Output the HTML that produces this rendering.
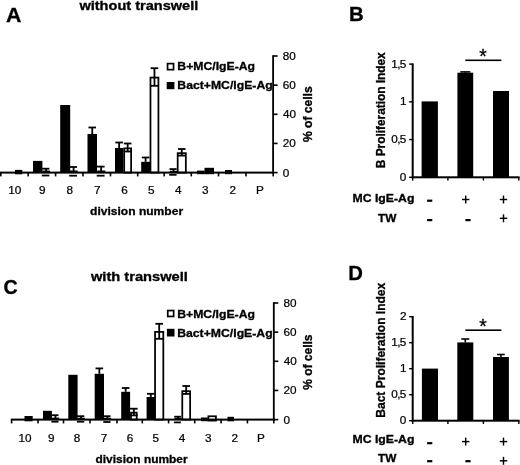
<!DOCTYPE html>
<html lang="en"><head><meta charset="utf-8"><title>Figure</title>
<style>
html,body{margin:0;padding:0;background:#fff;}
body{width:520px;height:465px;overflow:hidden;}
svg{display:block;font-family:"Liberation Sans",Arial,Helvetica,sans-serif;}
</style></head><body>
<svg width="520" height="465" viewBox="0 0 520 465">
<rect x="0" y="0" width="520" height="465" fill="#fff"/>
<rect x="15.00" y="169.90" width="7.30" height="4.40" fill="#000"/>
<rect x="33.00" y="160.90" width="9.40" height="11.70" fill="#000"/>
<line x1="46.10" y1="168.70" x2="46.10" y2="172.60" stroke="#000" stroke-width="1.8"/>
<line x1="42.10" y1="168.70" x2="49.40" y2="168.70" stroke="#000" stroke-width="1.8"/>
<line x1="41.80" y1="175.50" x2="49.40" y2="175.50" stroke="#000" stroke-width="1.8"/>
<rect x="42.40" y="170.60" width="7.70" height="2.00" fill="#000"/>
<rect x="60.20" y="105.00" width="10.00" height="67.60" fill="#000"/>
<line x1="73.60" y1="167.00" x2="73.60" y2="172.60" stroke="#000" stroke-width="1.8"/>
<line x1="69.50" y1="167.00" x2="77.00" y2="167.00" stroke="#000" stroke-width="1.8"/>
<line x1="69.20" y1="175.70" x2="77.00" y2="175.70" stroke="#000" stroke-width="1.8"/>
<rect x="69.80" y="170.50" width="7.90" height="2.10" fill="#000"/>
<rect x="87.50" y="134.00" width="9.50" height="38.60" fill="#000"/>
<line x1="92.25" y1="127.50" x2="92.25" y2="134.00" stroke="#000" stroke-width="1.8"/>
<line x1="88.45" y1="127.50" x2="96.05" y2="127.50" stroke="#000" stroke-width="1.8"/>
<line x1="101.15" y1="166.60" x2="101.15" y2="172.60" stroke="#000" stroke-width="1.8"/>
<line x1="97.00" y1="166.60" x2="104.60" y2="166.60" stroke="#000" stroke-width="1.8"/>
<line x1="96.70" y1="175.70" x2="104.60" y2="175.70" stroke="#000" stroke-width="1.8"/>
<rect x="97.30" y="170.50" width="8.00" height="2.10" fill="#000"/>
<rect x="115.00" y="148.00" width="8.30" height="24.60" fill="#000"/>
<line x1="119.15" y1="142.50" x2="119.15" y2="148.00" stroke="#000" stroke-width="1.8"/>
<line x1="115.35" y1="142.50" x2="122.95" y2="142.50" stroke="#000" stroke-width="1.8"/>
<rect x="124.17" y="148.38" width="6.95" height="24.22" fill="#fff" stroke="#000" stroke-width="1.75"/>
<line x1="127.65" y1="143.50" x2="127.65" y2="151.50" stroke="#000" stroke-width="1.8"/>
<line x1="123.85" y1="143.50" x2="131.45" y2="143.50" stroke="#000" stroke-width="1.8"/>
<line x1="123.85" y1="151.50" x2="131.45" y2="151.50" stroke="#000" stroke-width="1.8"/>
<rect x="141.20" y="161.80" width="8.80" height="10.80" fill="#000"/>
<line x1="145.60" y1="157.50" x2="145.60" y2="161.80" stroke="#000" stroke-width="1.8"/>
<line x1="141.80" y1="157.50" x2="149.40" y2="157.50" stroke="#000" stroke-width="1.8"/>
<rect x="150.47" y="77.58" width="7.95" height="95.02" fill="#fff" stroke="#000" stroke-width="1.75"/>
<line x1="154.45" y1="68.20" x2="154.45" y2="85.80" stroke="#000" stroke-width="1.8"/>
<line x1="150.65" y1="68.20" x2="158.25" y2="68.20" stroke="#000" stroke-width="1.8"/>
<line x1="150.65" y1="85.80" x2="158.25" y2="85.80" stroke="#000" stroke-width="1.8"/>
<line x1="173.40" y1="169.10" x2="173.40" y2="172.60" stroke="#000" stroke-width="1.8"/>
<line x1="169.50" y1="169.10" x2="176.60" y2="169.10" stroke="#000" stroke-width="1.8"/>
<line x1="169.20" y1="174.80" x2="176.60" y2="174.80" stroke="#000" stroke-width="1.8"/>
<rect x="169.80" y="170.80" width="7.50" height="1.80" fill="#000"/>
<rect x="177.68" y="153.18" width="8.15" height="19.42" fill="#fff" stroke="#000" stroke-width="1.75"/>
<line x1="181.75" y1="149.00" x2="181.75" y2="155.60" stroke="#000" stroke-width="1.8"/>
<line x1="177.95" y1="149.00" x2="185.55" y2="149.00" stroke="#000" stroke-width="1.8"/>
<line x1="177.95" y1="155.60" x2="185.55" y2="155.60" stroke="#000" stroke-width="1.8"/>
<rect x="197.00" y="170.60" width="7.50" height="3.60" fill="#000"/>
<rect x="204.50" y="167.80" width="9.50" height="6.40" fill="#000"/>
<rect x="225.00" y="170.00" width="7.00" height="4.20" fill="#000"/>
<rect x="0.00" y="171.60" width="273.90" height="2.00" fill="#000"/>
<rect x="0.00" y="172.60" width="1.60" height="3.80" fill="#000"/>
<rect x="27.40" y="172.60" width="1.60" height="3.80" fill="#000"/>
<rect x="54.80" y="172.60" width="1.60" height="3.80" fill="#000"/>
<rect x="82.20" y="172.60" width="1.60" height="3.80" fill="#000"/>
<rect x="109.70" y="172.60" width="1.60" height="3.80" fill="#000"/>
<rect x="136.90" y="172.60" width="1.60" height="3.80" fill="#000"/>
<rect x="163.40" y="172.60" width="1.60" height="3.80" fill="#000"/>
<rect x="190.50" y="172.60" width="1.60" height="3.80" fill="#000"/>
<rect x="217.70" y="172.60" width="1.60" height="3.80" fill="#000"/>
<rect x="245.20" y="172.60" width="1.60" height="3.80" fill="#000"/>
<rect x="272.40" y="172.60" width="1.60" height="3.80" fill="#000"/>
<rect x="272.20" y="55.20" width="1.80" height="118.40" fill="#000"/>
<rect x="273.10" y="171.80" width="4.50" height="1.60" fill="#000"/>
<text transform="translate(282.83 176.50) scale(1.1200 1.0000)" font-size="10.5" stroke="#000" stroke-width="0.22">0</text>
<rect x="273.10" y="142.65" width="4.50" height="1.60" fill="#000"/>
<text transform="translate(282.71 147.35) scale(1.1200 1.0000)" font-size="10.5" stroke="#000" stroke-width="0.22">20</text>
<rect x="273.10" y="113.50" width="4.50" height="1.60" fill="#000"/>
<text transform="translate(283.01 118.20) scale(1.1200 1.0000)" font-size="10.5" stroke="#000" stroke-width="0.22">40</text>
<rect x="273.10" y="84.35" width="4.50" height="1.60" fill="#000"/>
<text transform="translate(282.71 89.05) scale(1.1200 1.0000)" font-size="10.5" stroke="#000" stroke-width="0.22">60</text>
<rect x="273.10" y="55.20" width="4.50" height="1.60" fill="#000"/>
<text transform="translate(282.77 59.90) scale(1.1200 1.0000)" font-size="10.5" stroke="#000" stroke-width="0.22">80</text>
<text transform="translate(8.17 193.70) scale(1.1200 1.0000)" font-size="10.5" stroke="#000" stroke-width="0.22">10</text>
<text transform="translate(39.04 193.70) scale(1.1200 1.0000)" font-size="10.5" stroke="#000" stroke-width="0.22">9</text>
<text transform="translate(66.41 193.70) scale(1.1200 1.0000)" font-size="10.5" stroke="#000" stroke-width="0.22">8</text>
<text transform="translate(93.89 193.70) scale(1.1200 1.0000)" font-size="10.5" stroke="#000" stroke-width="0.22">7</text>
<text transform="translate(121.21 193.70) scale(1.1200 1.0000)" font-size="10.5" stroke="#000" stroke-width="0.22">6</text>
<text transform="translate(148.09 193.70) scale(1.1200 1.0000)" font-size="10.5" stroke="#000" stroke-width="0.22">5</text>
<text transform="translate(174.92 193.70) scale(1.1200 1.0000)" font-size="10.5" stroke="#000" stroke-width="0.22">4</text>
<text transform="translate(202.07 193.70) scale(1.1200 1.0000)" font-size="10.5" stroke="#000" stroke-width="0.22">3</text>
<text transform="translate(229.39 193.70) scale(1.1200 1.0000)" font-size="10.5" stroke="#000" stroke-width="0.22">2</text>
<text transform="translate(255.91 193.70) scale(1.1200 1.0000)" font-size="10.5" stroke="#000" stroke-width="0.22">P</text>
<text transform="translate(90.02 214.70) scale(1.0964 1.0000)" font-size="11" font-weight="bold" stroke="#000" stroke-width="0.3">division number</text>
<text transform="translate(311.80 142.10) rotate(-90) scale(1.0169 1.0700)" font-size="11.9" font-weight="bold" stroke="#000" stroke-width="0.3">% of cells</text>
<text transform="translate(79.40 9.80) scale(1.1554 1.0000)" font-size="12.6" font-weight="bold" stroke="#000" stroke-width="0.3">without transwell</text>
<rect x="167.55" y="63.60" width="6.00" height="6.05" fill="#fff" stroke="#000" stroke-width="1.7"/>
<text transform="translate(177.31 70.20) scale(1.0913 1.0000)" font-size="11.2" font-weight="bold" stroke="#000" stroke-width="0.3">B+MC/IgE-Ag</text>
<rect x="166.70" y="82.00" width="7.70" height="7.20" fill="#000"/>
<text transform="translate(177.31 88.70) scale(1.0913 1.0000)" font-size="11.2" font-weight="bold" stroke="#000" stroke-width="0.3">Bact+MC/IgE-Ag</text>
<rect x="24.50" y="416.00" width="8.20" height="5.30" fill="#000"/>
<rect x="43.00" y="410.80" width="8.90" height="8.80" fill="#000"/>
<line x1="55.45" y1="415.20" x2="55.45" y2="419.60" stroke="#000" stroke-width="1.8"/>
<line x1="51.70" y1="415.20" x2="58.50" y2="415.20" stroke="#000" stroke-width="1.8"/>
<line x1="51.40" y1="421.70" x2="58.50" y2="421.70" stroke="#000" stroke-width="1.8"/>
<rect x="52.00" y="417.60" width="7.20" height="2.00" fill="#000"/>
<rect x="68.30" y="374.80" width="9.30" height="44.80" fill="#000"/>
<line x1="81.10" y1="416.20" x2="81.10" y2="419.60" stroke="#000" stroke-width="1.8"/>
<line x1="77.20" y1="416.20" x2="84.30" y2="416.20" stroke="#000" stroke-width="1.8"/>
<line x1="76.90" y1="421.70" x2="84.30" y2="421.70" stroke="#000" stroke-width="1.8"/>
<rect x="77.50" y="417.80" width="7.50" height="1.80" fill="#000"/>
<rect x="94.70" y="373.80" width="9.30" height="45.80" fill="#000"/>
<line x1="99.35" y1="368.40" x2="99.35" y2="373.80" stroke="#000" stroke-width="1.8"/>
<line x1="95.55" y1="368.40" x2="103.15" y2="368.40" stroke="#000" stroke-width="1.8"/>
<line x1="107.40" y1="416.20" x2="107.40" y2="419.60" stroke="#000" stroke-width="1.8"/>
<line x1="103.60" y1="416.20" x2="110.50" y2="416.20" stroke="#000" stroke-width="1.8"/>
<line x1="103.30" y1="422.00" x2="110.50" y2="422.00" stroke="#000" stroke-width="1.8"/>
<rect x="103.90" y="417.80" width="7.30" height="1.80" fill="#000"/>
<rect x="121.20" y="391.80" width="8.90" height="27.80" fill="#000"/>
<line x1="125.65" y1="388.00" x2="125.65" y2="391.80" stroke="#000" stroke-width="1.8"/>
<line x1="121.85" y1="388.00" x2="129.45" y2="388.00" stroke="#000" stroke-width="1.8"/>
<rect x="130.97" y="412.68" width="5.75" height="6.93" fill="#fff" stroke="#000" stroke-width="1.75"/>
<line x1="133.85" y1="408.70" x2="133.85" y2="415.40" stroke="#000" stroke-width="1.8"/>
<line x1="130.05" y1="408.70" x2="137.65" y2="408.70" stroke="#000" stroke-width="1.8"/>
<line x1="130.05" y1="415.40" x2="137.65" y2="415.40" stroke="#000" stroke-width="1.8"/>
<rect x="146.60" y="397.00" width="8.40" height="22.60" fill="#000"/>
<line x1="150.80" y1="393.80" x2="150.80" y2="397.00" stroke="#000" stroke-width="1.8"/>
<line x1="147.00" y1="393.80" x2="154.60" y2="393.80" stroke="#000" stroke-width="1.8"/>
<rect x="155.07" y="331.88" width="8.25" height="87.73" fill="#fff" stroke="#000" stroke-width="1.75"/>
<line x1="159.20" y1="323.80" x2="159.20" y2="338.80" stroke="#000" stroke-width="1.8"/>
<line x1="155.40" y1="323.80" x2="163.00" y2="323.80" stroke="#000" stroke-width="1.8"/>
<line x1="155.40" y1="338.80" x2="163.00" y2="338.80" stroke="#000" stroke-width="1.8"/>
<line x1="177.90" y1="416.70" x2="177.90" y2="419.60" stroke="#000" stroke-width="1.8"/>
<line x1="174.20" y1="416.70" x2="180.90" y2="416.70" stroke="#000" stroke-width="1.8"/>
<line x1="173.90" y1="422.40" x2="180.90" y2="422.40" stroke="#000" stroke-width="1.8"/>
<rect x="174.50" y="417.90" width="7.10" height="1.70" fill="#000"/>
<rect x="182.28" y="391.18" width="7.85" height="28.43" fill="#fff" stroke="#000" stroke-width="1.75"/>
<line x1="186.20" y1="386.00" x2="186.20" y2="393.90" stroke="#000" stroke-width="1.8"/>
<line x1="182.40" y1="386.00" x2="190.00" y2="386.00" stroke="#000" stroke-width="1.8"/>
<line x1="182.40" y1="393.90" x2="190.00" y2="393.90" stroke="#000" stroke-width="1.8"/>
<rect x="201.00" y="417.50" width="6.70" height="3.70" fill="#000"/>
<rect x="208.38" y="416.27" width="7.55" height="4.33" fill="#fff" stroke="#000" stroke-width="1.75"/>
<rect x="227.50" y="416.80" width="6.50" height="4.50" fill="#000"/>
<rect x="10.80" y="418.60" width="263.80" height="2.00" fill="#000"/>
<rect x="10.80" y="419.60" width="1.60" height="3.80" fill="#000"/>
<rect x="37.20" y="419.60" width="1.60" height="3.80" fill="#000"/>
<rect x="62.70" y="419.60" width="1.60" height="3.80" fill="#000"/>
<rect x="89.20" y="419.60" width="1.60" height="3.80" fill="#000"/>
<rect x="116.20" y="419.60" width="1.60" height="3.80" fill="#000"/>
<rect x="141.50" y="419.60" width="1.60" height="3.80" fill="#000"/>
<rect x="167.80" y="419.60" width="1.60" height="3.80" fill="#000"/>
<rect x="193.90" y="419.60" width="1.60" height="3.80" fill="#000"/>
<rect x="220.30" y="419.60" width="1.60" height="3.80" fill="#000"/>
<rect x="246.60" y="419.60" width="1.60" height="3.80" fill="#000"/>
<rect x="273.00" y="419.60" width="1.60" height="3.80" fill="#000"/>
<rect x="272.90" y="302.20" width="1.80" height="118.40" fill="#000"/>
<rect x="273.80" y="418.80" width="4.50" height="1.60" fill="#000"/>
<text transform="translate(283.53 423.50) scale(1.1200 1.0000)" font-size="10.5" stroke="#000" stroke-width="0.22">0</text>
<rect x="273.80" y="389.65" width="4.50" height="1.60" fill="#000"/>
<text transform="translate(283.41 394.35) scale(1.1200 1.0000)" font-size="10.5" stroke="#000" stroke-width="0.22">20</text>
<rect x="273.80" y="360.50" width="4.50" height="1.60" fill="#000"/>
<text transform="translate(283.71 365.20) scale(1.1200 1.0000)" font-size="10.5" stroke="#000" stroke-width="0.22">40</text>
<rect x="273.80" y="331.35" width="4.50" height="1.60" fill="#000"/>
<text transform="translate(283.41 336.05) scale(1.1200 1.0000)" font-size="10.5" stroke="#000" stroke-width="0.22">60</text>
<rect x="273.80" y="302.20" width="4.50" height="1.60" fill="#000"/>
<text transform="translate(283.47 306.90) scale(1.1200 1.0000)" font-size="10.5" stroke="#000" stroke-width="0.22">80</text>
<text transform="translate(18.47 441.70) scale(1.1200 1.0000)" font-size="10.5" stroke="#000" stroke-width="0.22">10</text>
<text transform="translate(47.89 441.70) scale(1.1200 1.0000)" font-size="10.5" stroke="#000" stroke-width="0.22">9</text>
<text transform="translate(73.86 441.70) scale(1.1200 1.0000)" font-size="10.5" stroke="#000" stroke-width="0.22">8</text>
<text transform="translate(100.64 441.70) scale(1.1200 1.0000)" font-size="10.5" stroke="#000" stroke-width="0.22">7</text>
<text transform="translate(126.76 441.70) scale(1.1200 1.0000)" font-size="10.5" stroke="#000" stroke-width="0.22">6</text>
<text transform="translate(152.59 441.70) scale(1.1200 1.0000)" font-size="10.5" stroke="#000" stroke-width="0.22">5</text>
<text transform="translate(178.82 441.70) scale(1.1200 1.0000)" font-size="10.5" stroke="#000" stroke-width="0.22">4</text>
<text transform="translate(205.07 441.70) scale(1.1200 1.0000)" font-size="10.5" stroke="#000" stroke-width="0.22">3</text>
<text transform="translate(231.39 441.70) scale(1.1200 1.0000)" font-size="10.5" stroke="#000" stroke-width="0.22">2</text>
<text transform="translate(256.91 441.70) scale(1.1200 1.0000)" font-size="10.5" stroke="#000" stroke-width="0.22">P</text>
<text transform="translate(95.52 462.50) scale(1.0845 1.0000)" font-size="11" font-weight="bold" stroke="#000" stroke-width="0.3">division number</text>
<text transform="translate(312.00 389.70) rotate(-90) scale(1.0058 1.0700)" font-size="11.9" font-weight="bold" stroke="#000" stroke-width="0.3">% of cells</text>
<text transform="translate(90.90 281.30) scale(1.1850 1.0000)" font-size="12.4" font-weight="bold" stroke="#000" stroke-width="0.3">with transwell</text>
<rect x="167.75" y="310.55" width="5.90" height="5.90" fill="#fff" stroke="#000" stroke-width="1.7"/>
<text transform="translate(177.20 317.80) scale(1.0921 1.0000)" font-size="11.2" font-weight="bold" stroke="#000" stroke-width="0.3">B+MC/IgE-Ag</text>
<rect x="166.90" y="328.80" width="7.60" height="7.70" fill="#000"/>
<text transform="translate(177.20 336.50) scale(1.0921 1.0000)" font-size="11.2" font-weight="bold" stroke="#000" stroke-width="0.3">Bact+MC/IgE-Ag</text>
<rect x="421.60" y="101.40" width="16.30" height="75.90" fill="#000"/>
<rect x="457.40" y="72.70" width="15.80" height="104.60" fill="#000"/>
<line x1="465.30" y1="71.90" x2="465.30" y2="72.70" stroke="#000" stroke-width="1.6"/>
<line x1="460.30" y1="71.90" x2="470.30" y2="71.90" stroke="#000" stroke-width="1.6"/>
<rect x="493.00" y="91.00" width="16.00" height="86.30" fill="#000"/>
<rect x="411.70" y="63.40" width="2.00" height="114.70" fill="#000"/>
<rect x="411.70" y="176.30" width="107.90" height="2.00" fill="#000"/>
<rect x="412.00" y="177.30" width="1.40" height="3.30" fill="#000"/>
<rect x="447.20" y="177.30" width="1.40" height="3.30" fill="#000"/>
<rect x="482.70" y="177.30" width="1.40" height="3.30" fill="#000"/>
<rect x="518.10" y="177.30" width="1.40" height="3.30" fill="#000"/>
<rect x="409.10" y="176.60" width="3.60" height="1.40" fill="#000"/>
<text transform="translate(399.84 180.80) scale(1.1200 1.0000)" font-size="10.5" stroke="#000" stroke-width="0.22">0</text>
<rect x="409.10" y="138.87" width="3.60" height="1.40" fill="#000"/>
<text transform="translate(391.26 143.07) scale(1.1200 1.0000)" font-size="10.5" letter-spacing="-0.55" stroke="#000" stroke-width="0.22">0,5</text>
<rect x="409.10" y="101.13" width="3.60" height="1.40" fill="#000"/>
<text transform="translate(399.96 105.33) scale(1.1200 1.0000)" font-size="10.5" stroke="#000" stroke-width="0.22">1</text>
<rect x="409.10" y="63.40" width="3.60" height="1.40" fill="#000"/>
<text transform="translate(391.26 67.60) scale(1.1200 1.0000)" font-size="10.5" letter-spacing="-0.55" stroke="#000" stroke-width="0.22">1,5</text>
<text transform="translate(385.40 168.17) rotate(-90) scale(0.9958 1.0400)" font-size="11.9" font-weight="bold" stroke="#000" stroke-width="0.3">B Proliferation Index</text>
<rect x="465.30" y="59.50" width="36.10" height="1.60" fill="#000"/>
<text transform="translate(479.22 62.81) scale(1.0000 1.0149)" font-size="19.14" stroke="#000" stroke-width="0.3">*</text>
<text transform="translate(352.50 201.90) scale(1.0853 1.0000)" font-size="11.3" font-weight="bold" stroke="#000" stroke-width="0.3">MC IgE-Ag</text>
<text transform="translate(377.98 221.50) scale(1.0459 1.0000)" font-size="11.3" font-weight="bold" stroke="#000" stroke-width="0.3">TW</text>
<rect x="427.10" y="199.60" width="5.20" height="2.20" fill="#000"/>
<rect x="462.00" y="198.78" width="7.40" height="1.44" fill="#000"/>
<rect x="464.98" y="195.55" width="1.44" height="7.90" fill="#000"/>
<rect x="499.80" y="198.78" width="7.40" height="1.44" fill="#000"/>
<rect x="502.78" y="195.55" width="1.44" height="7.90" fill="#000"/>
<rect x="427.10" y="219.00" width="5.20" height="2.20" fill="#000"/>
<rect x="465.40" y="219.00" width="5.20" height="2.20" fill="#000"/>
<rect x="499.80" y="217.58" width="7.40" height="1.44" fill="#000"/>
<rect x="502.78" y="214.35" width="1.44" height="7.90" fill="#000"/>
<rect x="421.90" y="368.60" width="16.10" height="52.10" fill="#000"/>
<rect x="457.30" y="342.40" width="16.00" height="78.30" fill="#000"/>
<line x1="465.30" y1="339.00" x2="465.30" y2="342.40" stroke="#000" stroke-width="1.6"/>
<line x1="461.30" y1="339.00" x2="469.30" y2="339.00" stroke="#000" stroke-width="1.6"/>
<rect x="493.00" y="357.00" width="15.90" height="63.70" fill="#000"/>
<line x1="500.95" y1="354.50" x2="500.95" y2="357.00" stroke="#000" stroke-width="1.6"/>
<line x1="497.15" y1="354.50" x2="504.75" y2="354.50" stroke="#000" stroke-width="1.6"/>
<rect x="411.70" y="316.00" width="2.00" height="105.50" fill="#000"/>
<rect x="411.70" y="419.70" width="107.90" height="2.00" fill="#000"/>
<rect x="412.00" y="420.70" width="1.40" height="3.30" fill="#000"/>
<rect x="447.20" y="420.70" width="1.40" height="3.30" fill="#000"/>
<rect x="482.70" y="420.70" width="1.40" height="3.30" fill="#000"/>
<rect x="518.10" y="420.70" width="1.40" height="3.30" fill="#000"/>
<rect x="409.10" y="420.00" width="3.60" height="1.40" fill="#000"/>
<text transform="translate(399.84 424.20) scale(1.1200 1.0000)" font-size="10.5" stroke="#000" stroke-width="0.22">0</text>
<rect x="409.10" y="394.00" width="3.60" height="1.40" fill="#000"/>
<text transform="translate(391.26 398.20) scale(1.1200 1.0000)" font-size="10.5" letter-spacing="-0.55" stroke="#000" stroke-width="0.22">0,5</text>
<rect x="409.10" y="368.00" width="3.60" height="1.40" fill="#000"/>
<text transform="translate(399.96 372.20) scale(1.1200 1.0000)" font-size="10.5" stroke="#000" stroke-width="0.22">1</text>
<rect x="409.10" y="342.00" width="3.60" height="1.40" fill="#000"/>
<text transform="translate(391.26 346.20) scale(1.1200 1.0000)" font-size="10.5" letter-spacing="-0.55" stroke="#000" stroke-width="0.22">1,5</text>
<rect x="409.10" y="316.00" width="3.60" height="1.40" fill="#000"/>
<text transform="translate(399.96 320.20) scale(1.1200 1.0000)" font-size="10.5" stroke="#000" stroke-width="0.22">2</text>
<text transform="translate(385.30 417.68) rotate(-90) scale(1.0114 1.0400)" font-size="11.9" font-weight="bold" stroke="#000" stroke-width="0.3">Bact Proliferation Index</text>
<rect x="465.30" y="329.40" width="36.10" height="1.60" fill="#000"/>
<text transform="translate(479.22 332.81) scale(1.0000 1.0149)" font-size="19.14" stroke="#000" stroke-width="0.3">*</text>
<text transform="translate(352.50 442.90) scale(1.0853 1.0000)" font-size="11.3" font-weight="bold" stroke="#000" stroke-width="0.3">MC IgE-Ag</text>
<text transform="translate(377.98 461.50) scale(1.0459 1.0000)" font-size="11.3" font-weight="bold" stroke="#000" stroke-width="0.3">TW</text>
<rect x="427.10" y="442.10" width="5.20" height="2.20" fill="#000"/>
<rect x="462.00" y="440.88" width="7.40" height="1.44" fill="#000"/>
<rect x="464.98" y="437.65" width="1.44" height="7.90" fill="#000"/>
<rect x="499.80" y="440.88" width="7.40" height="1.44" fill="#000"/>
<rect x="502.78" y="437.65" width="1.44" height="7.90" fill="#000"/>
<rect x="427.10" y="460.10" width="5.20" height="2.20" fill="#000"/>
<rect x="465.40" y="460.10" width="5.20" height="2.20" fill="#000"/>
<rect x="499.80" y="460.08" width="7.40" height="1.44" fill="#000"/>
<rect x="502.78" y="456.85" width="1.44" height="7.90" fill="#000"/>
<text transform="translate(5.97 21.60) scale(1.0400 1.0000)" font-size="20.5" font-weight="bold" stroke="#000" stroke-width="0.3">A</text>
<text transform="translate(348.97 21.20) scale(1.0300 1.0000)" font-size="19.8" font-weight="bold" stroke="#000" stroke-width="0.3">B</text>
<text transform="translate(3.51 294.10) scale(0.9700 1.0000)" font-size="20.3" font-weight="bold" stroke="#000" stroke-width="0.3">C</text>
<text transform="translate(348.18 279.80) scale(1.0000 1.0000)" font-size="20.25" font-weight="bold" stroke="#000" stroke-width="0.3">D</text>
</svg>
</body></html>
